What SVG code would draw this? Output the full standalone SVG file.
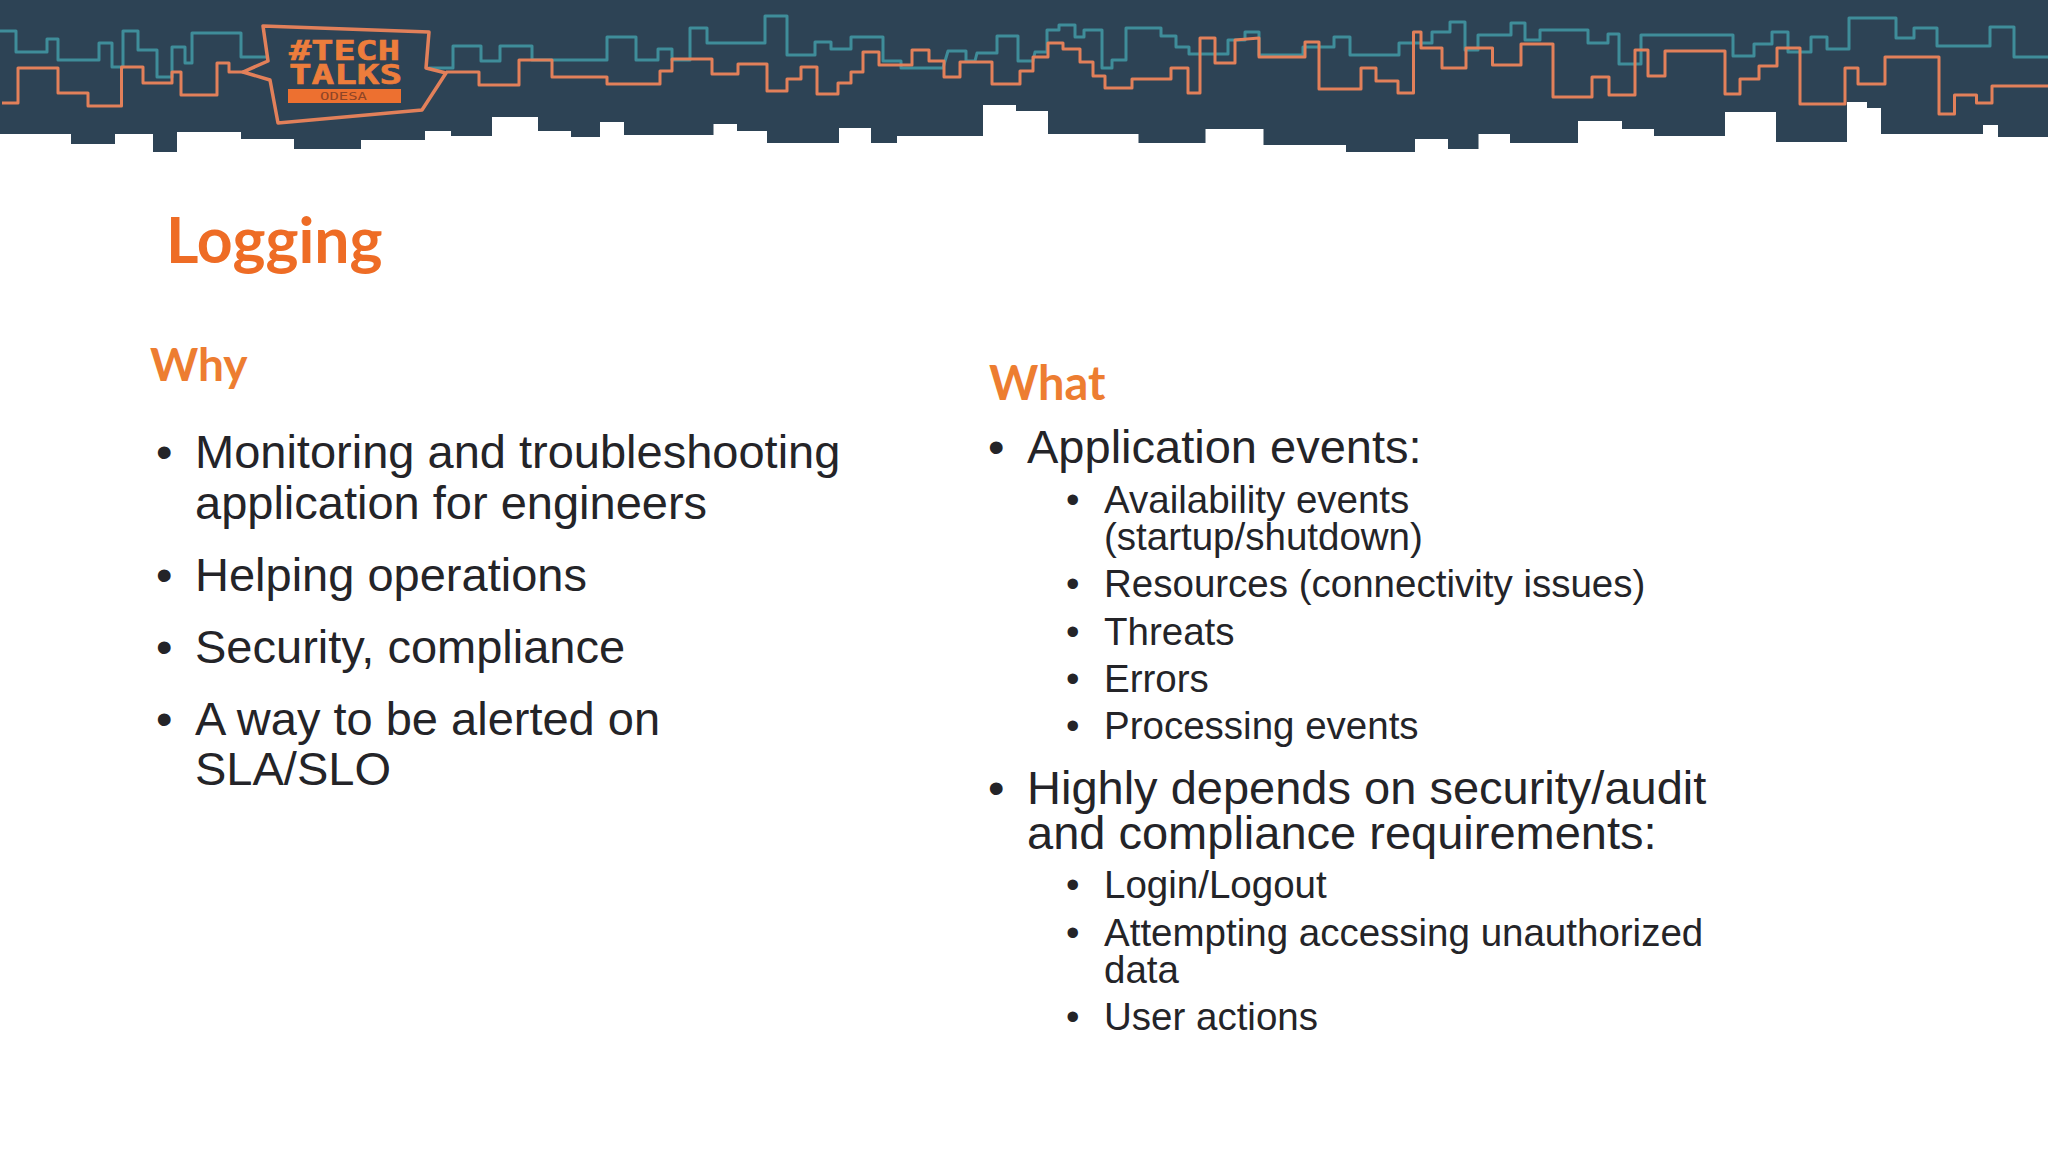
<svg xmlns="http://www.w3.org/2000/svg" width="2048" height="1152" viewBox="0 0 2048 1152">
<style>
.t{fill:none;stroke:#3f8d9a;stroke-width:3;stroke-linejoin:round}
.o{fill:none;stroke:#e2805a;stroke-width:3;stroke-linejoin:round}
.h{font-family:Lato,"Open Sans",sans-serif;font-weight:700;fill:#ed7d31}
.b{font-family:"Liberation Sans",Arial,sans-serif;fill:#242428}
.l{font-size:47px}.m{font-size:47px}.s{font-size:38.5px}
.k{font-family:"DejaVu Sans Mono",monospace;font-weight:700;fill:#ed7d3c;stroke:#ed7d3c;stroke-width:.6}
</style>
<rect width="2048" height="1152" fill="#fff"/>
<g id="banner">
<path fill="#2d4355" d="M0,0 H2048 V137 H1998 V125 H1983 V134 H1881 V108 H1867 V102 H1847 V142 H1776 V112 H1725 V136 H1654 V129 H1622 V121 H1578 V143 H1510 V134 H1478.5 V149 H1448 V139 H1415 V152 H1346 V145 H1263.5 V129 H1205.5 V143 H1138.5 V134 H1048 V111 H1016 V105 H983 V136 H897 V143 H871 V128 H839 V143 H767 V131 H737 V124 H713.5 V135 H624 V122 H600 V137 H571 V131 H538 V117 H492 V136 H451 V131 H425 V140 H361 V149 H294 V139 H241 V132 H177 V152 H153 V134 H115 V144 H71 V134 H0 Z"/>
<path class="t" d="M0,31 H16 V52 H47 V39 H58 V60 H99 V43 H112 V67 H123 V31 H138 V50 H157 V77 H172 V47 H185 V63 H192 V33 H241 V57 H266"/>
<path class="t" d="M429,68 H453 V46 H481 V61 H500 V46 H532 V60 H607 V37 H636 V60 H658 V49 H672 V60 H690 V28 H707 V43 H765 V16 H787 V55 H815 V42 H831 V49 H851 V37 H883 V61 H901 V68 H943 L948,51 H966 V61 H975 L977,53 H997 V36 H1018 V61 H1033 L1035,52 H1047 V30 H1059 V25 H1075 V37 H1084 V30 H1102 V68 H1112 V60 H1126 V28 H1161 V36 H1176 V47 H1189 V54 H1228 V40 H1245 V32 H1259 V55 H1303 V47 H1334 V37 H1350 V55 H1399 V43 H1432 V32 H1450 V22 H1465 V50 H1478 V35 H1511 V23 H1525 V40 H1540 V30 H1588 V43 H1608 V34 H1619 V64 H1641 V35 H1733 V56 H1754 V44 H1772 V32 H1788 V52 H1811 V37 H1827 V49 H1849 V18 H1896 V38 H1914 V28 H1937 V46 H1990 V27 H2014 V57 H2048"/>
<path class="o" d="M2,103 H18 V68 H58 V93 H88 V106 H121.5 V67 H143 V83 H172 V72 H181 V95 H217 V63 H229 V72 H243"/>
<path class="o" d="M446,72 H479 V85 H519 V60 H552 V77 H607 V84 H660 V71 H672 V59 H712 V74 H738 V64 H767 V91 H787 V79 H801 V67 H817 V94 H838 V83 H851 V72 H863 V52 H879 V65 H912 V50 H929 V61 H944 V77 H960 V62 H992 V84 H1020 V71 H1033 V57 H1048 V43 H1063 V49 H1080 V62 H1093 V76 H1105 V88 H1132 V79 H1171 V68 H1188 V93 H1200 V38 H1215 V63 H1235 V40 L1259,38 V57 H1305 V42 H1319 V89 H1361 V68 H1376 V81 H1398 V93 H1413.5 V32 H1421 V48 H1442 V68 H1466 V48 H1492.5 V65 H1521 V44 H1553 V97 H1592 V77 H1609 V95 H1635 V50 H1648 V76 H1665 V51 H1725 V94 H1740 V79 H1759 V66 H1777 V48 H1800 V104 H1845 V68 H1858 V84 H1885 V57 H1939 V114 H1954.5 V95 H1976.5 V103 H1992 V86 H2048"/>
</g>
<g id="logo">
<path class="o" style="stroke-width:3.5" d="M263,26 L429,32 L426,68 L446,73 L422,110 L278,123 L270,80 L243,72 L268,61 Z"/>
<text class="k" x="289" y="60" font-size="27" textLength="111" lengthAdjust="spacingAndGlyphs">#TECH</text>
<text class="k" x="289" y="84" font-size="27" textLength="113" lengthAdjust="spacingAndGlyphs">TALKS</text>
<rect x="288" y="89" width="113" height="14" fill="#ed7030"/>
<text x="320" y="100" font-family="DejaVu Sans Mono,monospace" font-size="11" fill="#8f4526" textLength="47" lengthAdjust="spacingAndGlyphs">ODESA</text>
</g>
<g id="title"><text class="h" style="fill:#ee6c25" x="166" y="263" font-size="62.5">Logging</text></g>
<g id="why">
<text class="h" x="150" y="381" font-size="46">Why</text>
<g class="b l">
<text x="156" y="468">•</text><text x="195" y="468">Monitoring and troubleshooting</text>
<text x="195" y="519">application for engineers</text>
<text x="156" y="591">•</text><text x="195" y="591">Helping operations</text>
<text x="156" y="663">•</text><text x="195" y="663">Security, compliance</text>
<text x="156" y="735">•</text><text x="195" y="735">A way to be alerted on</text>
<text x="195" y="785">SLA/SLO</text>
</g>
</g>
<g id="what">
<text class="h" x="989" y="400" font-size="47">What</text>
<g class="b m">
<text x="988" y="463">•</text><text x="1027" y="463">Application events:</text>
<text x="988" y="804">•</text><text x="1027" y="804">Highly depends on security/audit</text>
<text x="1027" y="849">and compliance requirements:</text>
</g>
<g class="b s">
<text x="1066" y="513">•</text><text x="1104" y="513">Availability events</text>
<text x="1104" y="550">(startup/shutdown)</text>
<text x="1066" y="597">•</text><text x="1104" y="597">Resources (connectivity issues)</text>
<text x="1066" y="645">•</text><text x="1104" y="645">Threats</text>
<text x="1066" y="692">•</text><text x="1104" y="692">Errors</text>
<text x="1066" y="739">•</text><text x="1104" y="739">Processing events</text>
<text x="1066" y="898">•</text><text x="1104" y="898">Login/Logout</text>
<text x="1066" y="946">•</text><text x="1104" y="946">Attempting accessing unauthorized</text>
<text x="1104" y="983">data</text>
<text x="1066" y="1030">•</text><text x="1104" y="1030">User actions</text>
</g>
</g>
</svg>
